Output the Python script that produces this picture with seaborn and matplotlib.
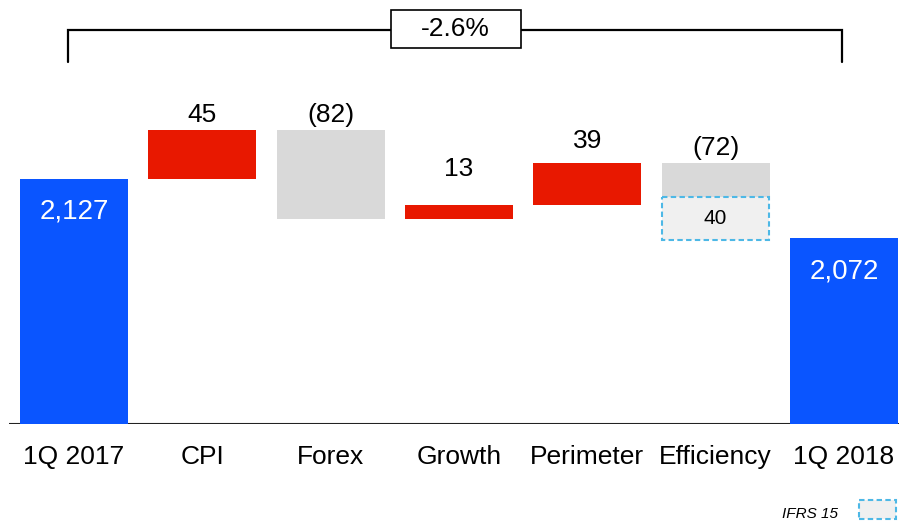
import numpy as np
import pandas as pd
import matplotlib
matplotlib.use("Agg")
import matplotlib.pyplot as plt
import matplotlib.patches as mpatches
import seaborn as sns

# ---- data ----
categories = ["1Q 2017", "CPI", "Forex", "Growth", "Perimeter", "Efficiency", "1Q 2018"]
start_value = 2127
deltas = [45, -82, 13, 39, -72]
end_value = 2072
ifrs15_value = 40           # part of the Efficiency effect shown as IFRS 15
delta_labels = ["45", "(82)", "13", "39", "(72)"]
start_label = "2,127"
end_label = "2,072"
ifrs_label = "40"
change_label = "-2.6%"
legend_label = "IFRS 15"

# ---- style ----
BLUE = "#0A55FF"
RED = "#E81800"
GREY = "#D9D9D9"
LIGHT = "#F0F0F0"
DASH = "#4DB8E6"
FLOOR = 1900          # axis floor (chart does not start at 0)
PXU = 1.08            # pixels per unit
AX_H = 424            # axes height in px
YTOP = FLOOR + AX_H / PXU


def pxy(p):
    """figure pixel row (from top) -> data y"""
    return FLOOR + (AX_H - p) / PXU


sns.set_theme(style="white")
plt.rcParams["font.family"] = ["Liberation Sans", "DejaVu Sans"]

# ---- waterfall geometry from the data ----
running = start_value + np.concatenate([[0], np.cumsum(deltas)])
bottoms = [FLOOR]
heights = [start_value - FLOOR]
colors = [BLUE]
for i, d in enumerate(deltas):
    if categories[i + 1] == "Efficiency":
        h = d + ifrs15_value            # solid grey part; the rest is IFRS 15
    else:
        h = d
    bottoms.append(running[i])
    heights.append(h)
    colors.append(RED if d > 0 else GREY)
bottoms.append(FLOOR)
heights.append(end_value - FLOOR)
colors.append(BLUE)

df = pd.DataFrame({"cat": categories, "h": heights})

fig = plt.figure(figsize=(8.99, 5.24), dpi=100)
ax = fig.add_axes([9 / 899, 100 / 524, 890 / 899, AX_H / 524])

sns.barplot(data=df, x="cat", y="h", ax=ax, width=0.8416, color=BLUE,
            bottom=bottoms, linewidth=0, saturation=1, zorder=2)
for p, c in zip(ax.patches, colors):
    p.set_facecolor(c)
    p.set_edgecolor("none")

# IFRS 15 dashed part of Efficiency
eff_i = categories.index("Efficiency")
eff_bottom = running[eff_i - 1] + deltas[eff_i - 1] + ifrs15_value
ax.bar(eff_i, -ifrs15_value, bottom=eff_bottom, width=0.83,
       facecolor=LIGHT, edgecolor=DASH, linewidth=1.5,
       linestyle=(0, (2.6, 1.6)), zorder=2)
ax.text(eff_i, eff_bottom - ifrs15_value / 2, ifrs_label, ha="center",
        va="center", fontsize=15, color="black", zorder=4)

# value labels above delta bars
offsets_pt = [6, 6, 21, 10.3, 5.5]
for i, (lab, off) in enumerate(zip(delta_labels, offsets_pt)):
    top = max(bottoms[i + 1], bottoms[i + 1] + heights[i + 1])
    ax.annotate(lab, (i + 1, top), xytext=(0, off), textcoords="offset points",
                ha="center", va="baseline", fontsize=19, color="black")

# white labels inside total bars
for i, lab, val in [(0, start_label, start_value),
                    (len(categories) - 1, end_label, end_value)]:
    ax.annotate(lab, (i, val), xytext=(0, -28.8), textcoords="offset points",
                ha="center", va="baseline", fontsize=20, color="white", zorder=4)

# bracket with change box
bx0, bx1 = -0.045, 5.985
by_top, by_low = pxy(30), pxy(62)
ax.plot([bx0, bx0, bx1, bx1], [by_low, by_top, by_top, by_low],
        color="black", lw=1.6, clip_on=False, zorder=3, solid_joinstyle="miter")
ax.add_patch(mpatches.Rectangle((2.468, pxy(47.7)), 1.013, pxy(10) - pxy(47.7),
                                facecolor="white", edgecolor="black", lw=1.2,
                                zorder=4, clip_on=False))
ax.text(2.974, pxy(29), change_label, ha="center", va="center", fontsize=19,
        color="black", zorder=5)

# axes styling
ax.axhline(FLOOR, color="#222222", lw=1.5, zorder=1)
ax.set_ylim(FLOOR, YTOP)
ax.set_xlim(-0.5065, 6.429)
for s in ax.spines.values():
    s.set_visible(False)
ax.set_yticks([])
ax.set_xlabel("")
ax.set_ylabel("")
ax.tick_params(axis="x", length=0, pad=15, labelsize=19, colors="black")

# legend for IFRS 15
fig.text(838 / 899, 5.5 / 524, legend_label, ha="right", va="baseline",
         fontsize=11, style="italic", color="black")
fig.add_artist(mpatches.Rectangle((859 / 899, 5.5 / 524), 37 / 899, 19 / 524,
                                  transform=fig.transFigure, facecolor=LIGHT,
                                  edgecolor=DASH, lw=1.5,
                                  linestyle=(0, (2.6, 1.6))))

fig.savefig("out.png", dpi=100)
